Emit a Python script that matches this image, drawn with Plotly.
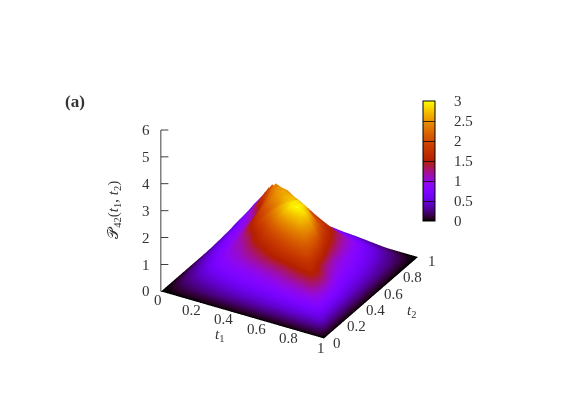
"""Two-time distribution surface P42(t1, t2) with a gnuplot style palette."""
import math

import plotly.graph_objects as go

t1 = [0.0, 0.05, 0.1, 0.15, 0.2, 0.25, 0.3, 0.35, 0.4, 0.45, 0.5, 0.55, 0.6, 0.65, 0.7, 0.75, 0.8, 0.85, 0.9, 0.95, 1.0]
t2 = [0.0, 0.05, 0.1, 0.15, 0.2, 0.25, 0.3, 0.35, 0.4, 0.45, 0.5, 0.55, 0.6, 0.65, 0.7, 0.75, 0.8, 0.85, 0.9, 0.95, 1.0]

# rows are t2, columns are t1
p42 = [
    [0] * 21,
    [0, .07, .14, .18, .22, .25, .28, .31, .33, .35, .37, .39, .41, .43, .45, .47, .49, .51, .53, .50, 0],
    [0, .14, .24, .30, .36, .41, .46, .50, .54, .58, .61, .64, .67, .71, .75, .79, .83, .87, .90, .53, 0],
    [0, .18, .30, .42, .50, .57, .63, .69, .74, .78, .82, .86, .90, 1.0, 1.08, 1.15, 1.25, 1.25, .87, .51, 0],
    [0, .22, .36, .50, .64, .72, .79, .85, .90, .95, 1.05, 1.12, 1.2, 1.32, 1.45, 1.6, 1.65, 1.35, .9, .49, 0],
    [0, .25, .41, .57, .72, .85, .95, 1.05, 1.15, 1.27, 1.4, 1.55, 1.7, 1.85, 1.95, 2.0, 1.6, 1.3, .85, .47, 0],
    [0, .28, .46, .63, .79, .98, 1.05, 1.2, 1.35, 1.5, 1.7, 1.9, 2.1, 2.25, 2.3, 2.0, 1.45, 1.15, .78, .45, 0],
    [0, .31, .50, .69, .85, 1.06, 1.15, 1.4, 1.6, 1.85, 2.1, 2.35, 2.55, 2.68, 2.45, 1.95, 1.3, 1.0, .72, .43, 0],
    [0, .33, .54, .74, .9, 1.12, 1.3, 1.55, 1.85, 2.2, 2.55, 2.85, 3.0, 2.88, 2.45, 1.75, 1.2, .92, .67, .41, 0],
    [0, .35, .58, .78, .95, 1.25, 1.55, 1.9, 2.2, 2.5, 2.75, 2.92, 2.92, 2.65, 2.1, 1.55, 1.06, .86, .64, .39, 0],
    [0, .37, .61, .82, 1.0, 1.4, 1.75, 2.0, 2.3, 2.55, 2.75, 2.85, 2.72, 2.35, 1.85, 1.42, 1.0, .82, .61, .37, 0],
    [0, .39, .64, .86, 1.06, 1.5, 1.95, 2.3, 2.5, 2.68, 2.72, 2.45, 2.2, 2.0, 1.66, 1.30, .95, .78, .58, .35, 0],
    [0, .41, .67, .90, 1.13, 1.6, 2.1, 2.45, 2.62, 2.6, 2.45, 2.2, 2.0, 1.8, 1.48, 1.20, .90, .74, .54, .33, 0],
    [0, .43, .71, .96, 1.22, 1.75, 2.3, 2.55, 2.5, 2.3, 2.15, 1.95, 1.75, 1.6, 1.36, 1.10, .85, .69, .50, .31, 0],
    [0, .47, .8, 1.1, 1.6, 2.0, 2.42, 2.3, 2.15, 2.0, 1.84, 1.66, 1.50, 1.36, 1.22, 1.0, .79, .63, .46, .28, 0],
    [0, .5, .82, 1.26, 1.7, 2.15, 1.92, 1.80, 1.68, 1.55, 1.42, 1.30, 1.20, 1.10, 1.0, .90, .72, .57, .41, .25, 0],
    [0, .52, .85, 1.3, 1.8, 1.5, 1.34, 1.22, 1.13, 1.06, 1.0, .95, .90, .85, .79, .72, .64, .50, .36, .22, 0],
    [0, .55, .92, 1.4, 1.25, 1.13, 1.04, .96, .90, .86, .82, .78, .74, .69, .63, .57, .50, .42, .30, .18, 0],
    [0, .6, 1.0, .9, .83, .79, .75, .71, .67, .64, .61, .58, .54, .50, .46, .41, .36, .30, .24, .14, 0],
    [0, .63, .55, .51, .49, .47, .45, .43, .41, .39, .37, .35, .33, .31, .28, .25, .22, .18, .14, .07, 0],
    [0] * 21,
]

t_ticks = [0, 0.2, 0.4, 0.6, 0.8, 1]
z_ticks = [0, 1, 2, 3, 4, 5, 6]
cbar_ticks = [0, 0.5, 1, 1.5, 2, 2.5, 3]

FONT = "Liberation Serif"
TEXT = "#333333"
SIZE = 15

# the page body has an 8px margin, so paper positions are measured from there
W, H, PAGE = 581, 408, 8


def pm3d_colorscale(n=48):
    # gnuplot default palette: rgbformulae 7,5,15
    stops = []
    for k in range(n + 1):
        g = k / n
        r = math.sqrt(g)
        gr = g**3
        b = max(math.sin(2 * math.pi * g), 0)
        stops.append([g, f"rgb({r*255:.0f},{gr*255:.0f},{b*255:.0f})"])
    return stops


def label(text, x, y, z, dx, dy, angle=0):
    # upright text pinned to a data position in the scene
    return dict(
        text=text,
        x=x,
        y=y,
        z=z,
        xshift=dx,
        yshift=dy,
        textangle=angle,
        showarrow=False,
        font=dict(family=FONT, size=SIZE, color=TEXT),
    )


scene_labels = (
    [label(str(v), v, 0, 0, -2.5, -9) for v in t_ticks]
    + [label(str(v), 1, v, 0, 13.5, -4) for v in t_ticks]
    + [label(str(v), 0, 0, v, -15, 0) for v in z_ticks]
    + [
        label("<i>t</i><sub>1</sub>", 0.5, 0, 0, -23, -20),
        label("<i>t</i><sub>2</sub>", 1, 0.5, 0, 40, -13),
        label("𝒫<sub>42</sub>(<i>t</i><sub>1</sub>, <i>t</i><sub>2</sub>)", 0, 0, 3, -47, 1, -90),
    ]
)

# short ticks that read horizontally on screen for this view
tick_x, tick_y, tick_z = [], [], []
for v in z_ticks:
    tick_x += [0, 0.034, None]
    tick_y += [0, 0.02, None]
    tick_z += [v, v, None]

fig = go.Figure()
fig.add_trace(
    go.Surface(
        x=t1,
        y=t2,
        z=p42,
        cmin=0,
        cmax=3,
        colorscale=pm3d_colorscale(),
        lighting=dict(ambient=1, diffuse=0, specular=0, roughness=1, fresnel=0),
        hoverinfo="skip",
        colorbar=dict(
            x=(423 - PAGE) / W,
            xanchor="left",
            y=(H - 221 + PAGE) / H,
            yanchor="bottom",
            len=120 / H,
            lenmode="fraction",
            thickness=12,
            xpad=0,
            ypad=0,
            outlinecolor="black",
            outlinewidth=1,
            tickmode="array",
            tickvals=cbar_ticks,
            ticktext=["\u2003" + str(v) for v in cbar_ticks],
            ticks="inside",
            ticklen=12,
            tickwidth=1,
            tickcolor="rgba(0,0,0,0.75)",
            tickfont=dict(family=FONT, size=SIZE, color=TEXT),
        ),
    )
)
fig.add_trace(
    go.Scatter3d(
        x=[0, 0, None] + tick_x,
        y=[0, 0, None] + tick_y,
        z=[0, 6, None] + tick_z,
        mode="lines",
        line=dict(color="black", width=1.5),
        showlegend=False,
        hoverinfo="skip",
    )
)


def axis(rng):
    return dict(
        title=dict(text=""),
        range=rng,
        showticklabels=False,
        ticks="",
        showline=False,
        showgrid=False,
        zeroline=False,
        showbackground=False,
        showspikes=False,
    )


R = 2.0

fig.update_layout(
    width=W,
    height=H,
    margin=dict(l=0, r=0, t=0, b=0),
    paper_bgcolor="white",
    showlegend=False,
    font=dict(family=FONT, color=TEXT),
    scene=dict(
        domain=dict(x=[0, 0.969], y=[0.0906, 1]),
        aspectmode="manual",
        aspectratio=dict(x=1.015, y=1.015, z=1.005),
        xaxis=axis([0, 1]),
        yaxis=axis([0, 1]),
        zaxis=axis([0, 6]),
        camera=dict(
            eye=dict(x=0.433 * R, y=-0.75 * R, z=0.5 * R),
            up=dict(x=0, y=0, z=1),
            center=dict(x=0, y=0, z=0),
            projection=dict(type="orthographic"),
        ),
        annotations=scene_labels,
    ),
    annotations=[
        dict(
            text="<b>(a)</b>",
            x=(63 - PAGE) / W,
            y=(H - 102 + PAGE) / H,
            xref="paper",
            yref="paper",
            xanchor="left",
            yanchor="middle",
            showarrow=False,
            font=dict(family=FONT, size=17, color=TEXT),
        )
    ],
)

fig.write_html("out.html")
